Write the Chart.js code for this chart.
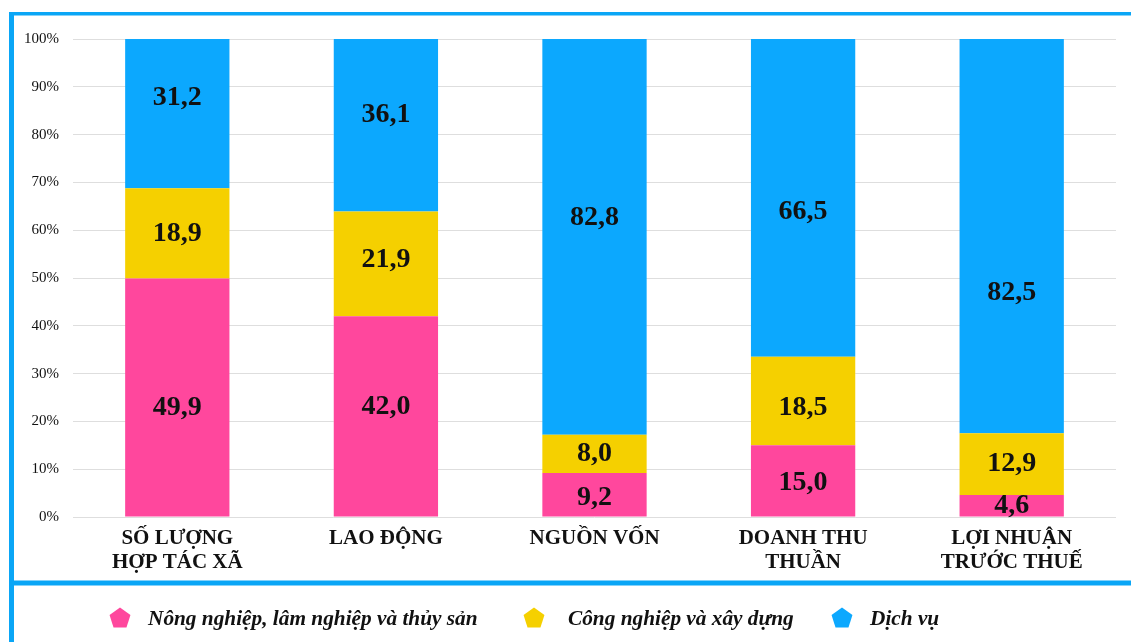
<!DOCTYPE html>
<html lang="vi">
<head>
<meta charset="utf-8">
<title>Cơ cấu hợp tác xã</title>
<script src="https://cdn.jsdelivr.net/npm/chart.js@4.4.0/dist/chart.umd.min.js"></script>
<style>
    html, body { margin: 0; padding: 0; background: #ffffff; }
    #wrap { position: relative; width: 1131px; height: 642px; }
</style>
</head>
<body>
<div id="wrap"><canvas id="chart"></canvas></div>
<script>
// Dữ liệu (%)
const categories = [
    ["SỐ LƯỢNG", "HỢP TÁC XÃ"],
    "LAO ĐỘNG",
    "NGUỒN VỐN",
    ["DOANH THU", "THUẦN"],
    ["LỢI NHUẬN", "TRƯỚC THUẾ"],
];
const seriesNames = ["Nông nghiệp, lâm nghiệp và thủy sản", "Công nghiệp và xây dựng", "Dịch vụ"];
const nongNghiep = [49.9, 42.0, 9.2, 15.0, 4.6];
const congNghiep = [18.9, 21.9, 8.0, 18.5, 12.9];
const dichVu = [31.2, 36.1, 82.8, 66.5, 82.5];
const yTicks = [0, 10, 20, 30, 40, 50, 60, 70, 80, 90, 100];

const colors = ["#FF479D", "#F5D000", "#0CA8FE"];
const borderBlue = "#0AA6F6";
// dịch nhãn số theo chiều dọc (px) như trong hình gốc
const labelShift = [
    [10, -10, 3, 2, 0],
    [0, -4, 0, 7, 0],
    [-16, -11, -19, 14, 57],
];

const fmt = v => v.toFixed(1).replace(".", ",");

// Vẽ số trên từng đoạn cột
const valueLabels = {
    id: "valueLabels",
    afterDatasetsDraw(chart) {
        const ctx = chart.ctx;
        ctx.save();
        ctx.font = "bold 28px 'Liberation Serif', 'Times New Roman', serif";
        ctx.fillStyle = "#111111";
        ctx.textAlign = "center";
        ctx.textBaseline = "middle";
        chart.data.datasets.forEach((ds, di) => {
            chart.getDatasetMeta(di).data.forEach((bar, i) => {
                const cy = (bar.y + bar.base) / 2 + labelShift[di][i];
                ctx.fillText(fmt(ds.data[i]), bar.x, cy);
            });
        });
        ctx.restore();
    }
};

// Khung viền xanh + chú thích
function pentagon(ctx, cx, cy, r, color) {
    ctx.beginPath();
    for (let k = 0; k < 5; k++) {
        const a = -Math.PI / 2 + k * 2 * Math.PI / 5;
        const px = cx + r * Math.cos(a), py = cy + r * Math.sin(a);
        if (k === 0) ctx.moveTo(px, py); else ctx.lineTo(px, py);
    }
    ctx.closePath();
    ctx.fillStyle = color;
    ctx.fill();
}

const frameLegend = {
    id: "frameLegend",
    afterDraw(chart) {
        const ctx = chart.ctx;
        ctx.save();
        ctx.fillStyle = borderBlue;
        ctx.fillRect(9, 12, 1122, 3.5);
        ctx.fillRect(9, 12, 5, 630);
        ctx.fillRect(9, 580.5, 1122, 5);

        const markerX = [120, 534, 842];
        const textX = [148, 568, 870];
        ctx.font = "italic bold 21.3px 'Liberation Serif', 'Times New Roman', serif";
        ctx.textBaseline = "middle";
        ctx.textAlign = "left";
        chart.data.datasets.forEach((ds, i) => {
            pentagon(ctx, markerX[i], 618.5, 11, ds.backgroundColor);
            ctx.fillStyle = "#111111";
            ctx.fillText(ds.label, textX[i], 619.5);
        });
        ctx.restore();
    }
};

new Chart(document.getElementById("chart"), {
    type: "bar",
    data: {
        labels: categories,
        datasets: [
            { label: seriesNames[0], data: nongNghiep, backgroundColor: colors[0] },
            { label: seriesNames[1], data: congNghiep, backgroundColor: colors[1] },
            { label: seriesNames[2], data: dichVu, backgroundColor: colors[2] },
        ],
    },
    options: {
        responsive: true,
        maintainAspectRatio: false,
        animation: false,
        categoryPercentage: 1,
        barPercentage: 0.5,
        layout: { padding: { top: 39, right: 15, bottom: 0, left: 0 } },
        scales: {
            x: {
                stacked: true,
                grid: { display: false },
                border: { display: false },
                ticks: {
                    padding: 1,
                    color: "#111111",
                    font: { family: "'Liberation Serif', 'Times New Roman', serif", size: 21, weight: "bold", lineHeight: 1.17 },
                },
                afterFit(scale) { scale.height = 125; },
            },
            y: {
                stacked: true,
                min: 0,
                max: 100,
                afterBuildTicks(scale) { scale.ticks = yTicks.map(v => ({ value: v })); },
                grid: { color: "#dedede", lineWidth: 1, drawTicks: false },
                border: { display: false },
                ticks: {
                    padding: 14,
                    color: "#111111",
                    font: { family: "'Liberation Serif', 'Times New Roman', serif", size: 15 },
                    callback: v => v + "%",
                },
                afterFit(scale) { scale.width = 73; },
            },
        },
        plugins: {
            legend: { display: false },
            tooltip: { enabled: false },
        },
    },
    plugins: [valueLabels, frameLegend],
});
</script>
</body>
</html>
